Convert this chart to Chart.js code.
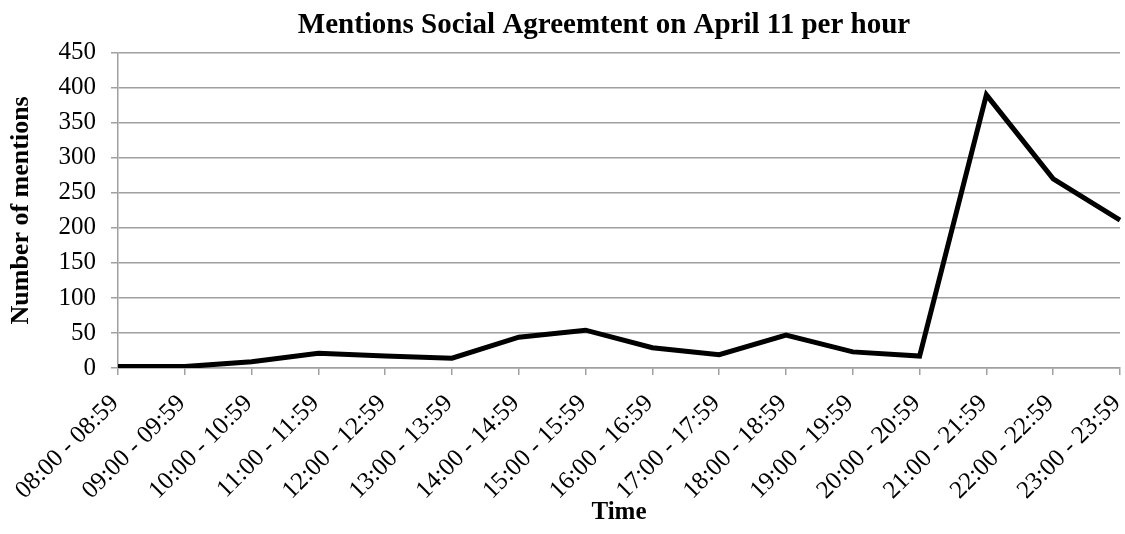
<!DOCTYPE html>
<html>
<head>
<meta charset="utf-8">
<style>
  html, body { margin: 0; padding: 0; background: #ffffff; }
  #wrap { width: 1125px; height: 534px; }
</style>
<script src="https://cdn.jsdelivr.net/npm/chart.js@4/dist/chart.umd.min.js"></script>
</head>
<body>
<div id="wrap"><canvas id="c" width="1125" height="534"></canvas></div>
<script>
// Hourly time slots
const hours = [
  "08:00 - 08:59", "09:00 - 09:59", "10:00 - 10:59", "11:00 - 11:59",
  "12:00 - 12:59", "13:00 - 13:59", "14:00 - 14:59", "15:00 - 15:59",
  "16:00 - 16:59", "17:00 - 17:59", "18:00 - 18:59", "19:00 - 19:59",
  "20:00 - 20:59", "21:00 - 21:59", "22:00 - 22:59", "23:00 - 23:59"
];
// Mentions counted in each slot
const mentions = [2, 2, 9, 21, 17, 14, 44, 54, 29, 19, 47, 23, 17, 390, 270, 211];
// Value axis ticks
const yTicks = [0, 50, 100, 150, 200, 250, 300, 350, 400, 450];

const serif = "'Liberation Serif', 'Times New Roman', serif";
const gridGray = '#a0a0a0';

// Centre the title over the plot rather than the whole canvas
const titleOverPlot = {
  id: 'titleOverPlot',
  afterLayout(chart) {
    const tb = chart.titleBlock;
    if (tb) {
      const centre = 604;
      const half = Math.min(centre, chart.width - centre);
      tb.left = centre - half;
      tb.right = centre + half;
    }
  }
};

new Chart(document.getElementById('c'), {
  type: 'line',
  data: {
    labels: hours,
    datasets: [{
      label: 'Mentions',
      data: mentions,
      borderColor: '#000000',
      borderWidth: 5,
      pointRadius: 0,
      tension: 0,
      fill: false
    }]
  },
  options: {
    responsive: false,
    animation: false,
    layout: { padding: { left: 0, right: 0, top: 0, bottom: 0 } },
    plugins: {
      legend: { display: false },
      tooltip: { enabled: false },
      title: {
        display: true,
        text: 'Mentions Social Agreemtent on April 11 per hour',
        color: '#000000',
        font: { family: serif, size: 29, weight: 'bold' },
        padding: { top: 8, bottom: 10 }
      }
    },
    scales: {
      x: {
        offset: false,
        grid: {
          drawOnChartArea: false,
          drawTicks: true,
          tickLength: 7,
          color: gridGray,
          lineWidth: 1.5
        },
        border: { display: true, color: gridGray, width: 1.5 },
        ticks: {
          color: '#000000',
          font: { family: serif, size: 25 },
          minRotation: 45,
          maxRotation: 45,
          autoSkip: false,
          padding: 14,
          labelOffset: -3
        },
        title: {
          display: true,
          text: 'Time',
          color: '#000000',
          font: { family: serif, size: 25, weight: 'bold' },
          padding: { top: 0, bottom: 6 }
        },
        afterFit: (s) => { s.height = 166; s.paddingRight = 5; }
      },
      y: {
        min: 0,
        max: 450,
        afterBuildTicks: (s) => { s.ticks = yTicks.map(v => ({ value: v })); },
        grid: {
          color: gridGray,
          lineWidth: 1.5,
          tickLength: 7
        },
        border: { display: true, color: gridGray, width: 1.5 },
        ticks: {
          color: '#000000',
          font: { family: serif, size: 25 },
          padding: 15
        },
        title: {
          display: true,
          text: 'Number of mentions',
          color: '#000000',
          font: { family: serif, size: 26, weight: 'bold' },
          padding: { top: 6, bottom: 0 }
        },
        afterFit: (s) => { s.width = 118; }
      }
    }
  },
  plugins: [titleOverPlot]
});
</script>
</body>
</html>
